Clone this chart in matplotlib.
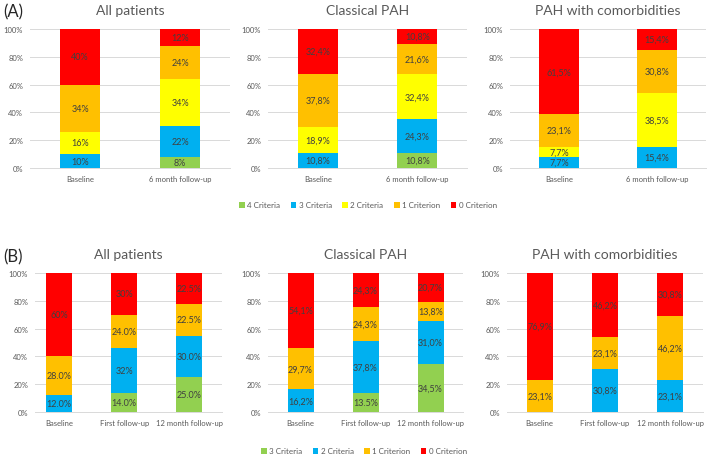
import matplotlib
matplotlib.use("Agg")
import matplotlib.pyplot as plt
from matplotlib.patches import Patch

plt.rcParams['font.family'] = ['Lato', 'DejaVu Sans']

# ---------------- Data ----------------
colors_A = ['#92D050', '#00B0F0', '#FFFF00', '#FFC000', '#FF0000']
series_A = ['4 Criteria', '3 Criteria', '2 Criteria', '1 Criterion', '0 Criterion']
cats_A = ['Baseline', '6 month follow-up']

titles = ['All patients', 'Classical PAH', 'PAH with comorbidities']

# values per series: [Baseline, 6 month]
A_all = [[0, 8], [10, 22], [16, 34], [34, 24], [40, 12]]
A_all_lbl = [['', '8%'], ['10%', '22%'], ['16%', '34%'], ['34%', '24%'], ['40%', '12%']]
A_cla = [[0, 10.8], [10.8, 24.3], [18.9, 32.4], [37.8, 21.6], [32.4, 10.8]]
A_cla_lbl = [['', '10,8%'], ['10,8%', '24,3%'], ['18,9%', '32,4%'], ['37,8%', '21,6%'], ['32,4%', '10,8%']]
A_com = [[0, 0], [7.7, 15.4], [7.7, 38.5], [23.1, 30.8], [61.5, 15.4]]
A_com_lbl = [['', ''], ['7,7%', '15,4%'], ['7,7%', '38,5%'], ['23,1%', '30,8%'], ['61,5%', '15,4%']]

colors_B = ['#92D050', '#00B0F0', '#FFC000', '#FF0000']
series_B = ['3 Criteria', '2 Criteria', '1 Criterion', '0 Criterion']
cats_B = ['Baseline', 'First follow-up', '12 month follow-up']

B_all = [[0, 14.0, 25.0], [12.0, 32, 30.0], [28.0, 24.0, 22.5], [60, 30, 22.5]]
B_all_lbl = [['', '14.0%', '25.0%'], ['12.0%', '32%', '30.0%'], ['28.0%', '24.0%', '22.5%'], ['60%', '30%', '22.5%']]
B_cla = [[0, 13.5, 34.5], [16.2, 37.8, 31.0], [29.7, 24.3, 13.8], [54.1, 24.3, 20.7]]
B_cla_lbl = [['', '13.5%', '34,5%'], ['16,2%', '37,8%', '31,0%'], ['29,7%', '24,3%', '13,8%'], ['54,1%', '24,3%', '20,7%']]
B_com = [[0, 0, 0], [0, 30.8, 23.1], [23.1, 23.1, 46.2], [76.9, 46.2, 30.8]]
B_com_lbl = [['', '', ''], ['', '30,8%', '23,1%'], ['23,1%', '23,1%', '46,2%'], ['76,9%', '46,2%', '30,8%']]

# ---------------- Figure ----------------
W, H = 709, 456
fig = plt.figure(figsize=(W / 100, H / 100), dpi=100)

GRID = '#D9D9D9'
TXT = '#595959'
LBL = '#404040'


def px_axes(x0, x1, ytop, ybot):
    return fig.add_axes([x0 / W, 1 - ybot / H, (x1 - x0) / W, (ybot - ytop) / H])


def panel(ax, cats, data, labels, colors, title, xlim):
    x = list(range(len(cats)))
    bottoms = [0] * len(cats)
    for s, (vals, lbls) in enumerate(zip(data, labels)):
        ax.bar(x, vals, width=0.4, bottom=bottoms, color=colors[s], zorder=3, linewidth=0)
        for i, (v, l) in enumerate(zip(vals, lbls)):
            if l:
                ax.text(x[i], bottoms[i] + v / 2, l, ha='center', va='center',
                        fontsize=6.5, color=LBL, zorder=4)
        bottoms = [b + v for b, v in zip(bottoms, vals)]
    ax.set_ylim(0, 100)
    ax.set_xlim(*xlim)
    ax.set_yticks([0, 20, 40, 60, 80, 100])
    ax.set_yticklabels(['0%', '20%', '40%', '60%', '80%', '100%'])
    ax.set_xticks(x)
    ax.set_xticklabels(cats)
    ax.grid(axis='y', color=GRID, linewidth=0.7, zorder=0)
    for sp in ['top', 'right', 'left']:
        ax.spines[sp].set_visible(False)
    ax.spines['bottom'].set_color(GRID)
    ax.spines['bottom'].set_linewidth(0.7)
    ax.tick_params(axis='both', length=0, labelsize=5.5, colors=TXT, pad=5)
    ax.set_title(title, fontsize=10, color=TXT, pad=11)


# Top row (A)
top = (30, 169)
axA1 = px_axes(30, 230, *top)
axA2 = px_axes(268, 467, *top)
axA3 = px_axes(510, 706, *top)
panel(axA1, cats_A, A_all, A_all_lbl, colors_A, titles[0], (-0.5, 1.5))
panel(axA2, cats_A, A_cla, A_cla_lbl, colors_A, titles[1], (-0.5, 1.5))
panel(axA3, cats_A, A_com, A_com_lbl, colors_A, titles[2], (-0.5, 1.5))

# Bottom row (B)
bot = (274, 413)
axB1 = px_axes(35, 222, *bot)
axB2 = px_axes(268, 463, *bot)
axB3 = px_axes(507, 703, *bot)
panel(axB1, cats_B, B_all, B_all_lbl, colors_B, titles[0], (-0.37, 2.5))
panel(axB2, cats_B, B_cla, B_cla_lbl, colors_B, titles[1], (-0.5, 2.5))
panel(axB3, cats_B, B_com, B_com_lbl, colors_B, titles[2], (-0.5, 2.5))

fig.text(3 / W, 1 - 12 / H, '(A)', fontsize=12, color='#262626', va='center', ha='left')
fig.text(3 / W, 1 - 257 / H, '(B)', fontsize=12, color='#262626', va='center', ha='left')

# Legends
hA = [Patch(facecolor=c, edgecolor='none') for c in colors_A]
fig.legend(hA, series_A, loc='center', bbox_to_anchor=(368 / W, 1 - 206 / H), ncol=5,
           frameon=False, fontsize=5.8, labelcolor=TXT, handlelength=0.7, handleheight=0.7,
           handletextpad=0.3, columnspacing=1.3)
hB = [Patch(facecolor=c, edgecolor='none') for c in colors_B]
fig.legend(hB, series_B, loc='center', bbox_to_anchor=(364 / W, 1 - 452 / H), ncol=4,
           frameon=False, fontsize=5.8, labelcolor=TXT, handlelength=0.7, handleheight=0.7,
           handletextpad=0.3, columnspacing=1.3)

fig.savefig('out.png', dpi=100)
